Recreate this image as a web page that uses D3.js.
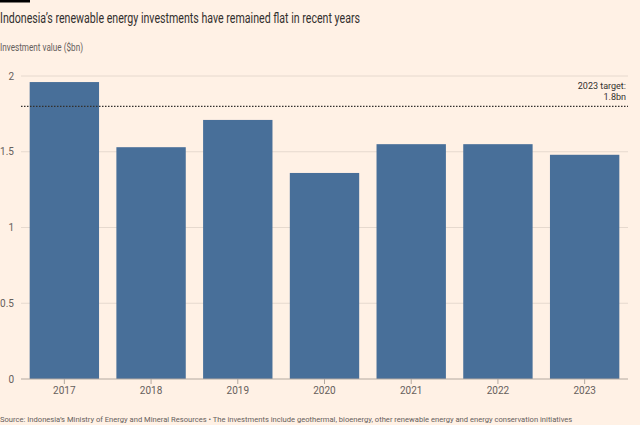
<!DOCTYPE html>
<html><head><meta charset="utf-8">
<script src="https://cdn.jsdelivr.net/npm/d3@7"></script>
<style>
html,body{margin:0;padding:0;background:#FFF1E5;}
svg{display:block;font-family:Roboto, "Noto Sans", sans-serif;}
</style></head>
<body><svg id="c" width="640" height="425"></svg>
<script>
const years = ["2017","2018","2019","2020","2021","2022","2023"];
const values = [1.96, 1.53, 1.71, 1.36, 1.55, 1.55, 1.48];
const yTicks = [0, 0.5, 1, 1.5, 2];
const yTickLabels = ["0","0.5","1","1.5","2"];
const target = 1.8;

const svg = d3.select("#c");
svg.append("rect").attr("x",0).attr("y",0).attr("width",30).attr("height",2.5).attr("fill","#000");

const x = d3.scaleBand().domain(years).range([21, 628]).paddingInner(0.2).paddingOuter(0.1);
const y = d3.scaleLinear().domain([0, 2]).range([379, 76]);

svg.append("text").attr("x",0).attr("y",23).attr("font-size",15).attr("fill","#33302e")
  .attr("textLength",360).attr("lengthAdjust","spacingAndGlyphs")
  .text("Indonesia’s renewable energy investments have remained flat in recent years");
svg.append("text").attr("x",0).attr("y",51).attr("font-size",10.5).attr("fill","#66605c")
  .attr("textLength",83).attr("lengthAdjust","spacingAndGlyphs")
  .text("Investment value ($bn)");

// grid
const g = svg.append("g");
g.selectAll("line.grid").data(yTicks.filter(d=>d>0)).join("line")
  .attr("x1",21).attr("x2",628).attr("y1",d=>y(d)).attr("y2",d=>y(d))
  .attr("stroke","#e6d9ce").attr("stroke-width",1);
g.selectAll("text.yl").data(yTicks).join("text")
  .attr("x",14).attr("y",d=>y(d)).attr("dy","0.35em").attr("text-anchor","end")
  .attr("font-size",10).attr("fill","#66605c").text((d,i)=>yTickLabels[i]);

// bars
svg.selectAll("rect.bar").data(years).join("rect")
  .attr("x",d=>x(d)).attr("width",x.bandwidth())
  .attr("y",(d,i)=>y(values[i])).attr("height",(d,i)=>y(0)-y(values[i]))
  .attr("fill","#486f99");

// target line
svg.append("line").attr("x1",21).attr("x2",628).attr("y1",y(target)).attr("y2",y(target))
  .attr("stroke","#33302e").attr("stroke-width",1.2).attr("stroke-dasharray","1.5,1.5");
svg.append("text").attr("x",626).attr("y",y(target)-17).attr("text-anchor","end")
  .attr("font-size",9).attr("fill","#33302e").text("2023 target:");
svg.append("text").attr("x",626).attr("y",y(target)-6).attr("text-anchor","end")
  .attr("font-size",9).attr("fill","#33302e").text("1.8bn");

// x axis
const xa = svg.append("g").attr("transform","translate(0,379)");
xa.append("line").attr("x1",21).attr("x2",628).attr("stroke","#b3a9a0").attr("stroke-width",1);
xa.selectAll("line.t").data(years).join("line")
  .attr("x1",d=>x(d)+x.bandwidth()/2).attr("x2",d=>x(d)+x.bandwidth()/2)
  .attr("y1",0).attr("y2",5).attr("stroke","#b3a9a0");
xa.selectAll("text").data(years).join("text")
  .attr("x",d=>x(d)+x.bandwidth()/2).attr("y",15).attr("text-anchor","middle")
  .attr("font-size",10).attr("fill","#66605c").text(d=>d);

svg.append("text").attr("x",0).attr("y",422).attr("font-size",7.6).attr("fill","#66605c")
  .text("Source: Indonesia’s Ministry of Energy and Mineral Resources • The investments include geothermal, bioenergy, other renewable energy and energy conservation initiatives");
</script></body></html>
